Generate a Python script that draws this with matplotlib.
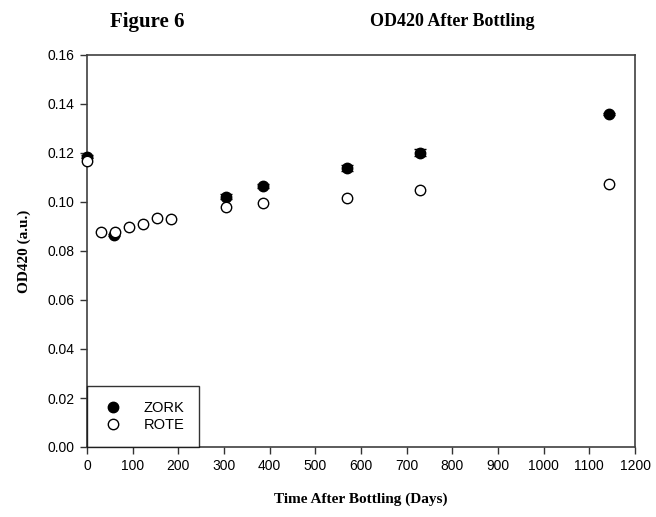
import matplotlib
matplotlib.use("Agg")
import matplotlib.pyplot as plt
from matplotlib.lines import Line2D
import numpy as np

# data
zork_days = [0, 60, 305, 385, 570, 730, 1143]
zork_od = [0.1185, 0.0866, 0.1022, 0.1065, 0.1138, 0.1201, 0.1358]
zork_err = [0.0006, 0.0005, 0.0010, 0.0008, 0.0012, 0.0014, 0.0004]

rote_days = [0, 30, 61, 92, 122, 154, 184, 305, 385, 570, 730, 1143]
rote_od = [0.1169, 0.0879, 0.0879, 0.0897, 0.0910, 0.0933, 0.0929,
           0.0981, 0.0997, 0.1015, 0.1049, 0.1072]

xticks = np.arange(0, 1201, 100)
yticks = np.arange(0, 0.161, 0.02)

serif = ["Liberation Serif", "DejaVu Serif"]
sans = ["Liberation Sans", "DejaVu Sans"]
plt.rcParams["font.family"] = sans

fig = plt.figure(figsize=(6.56, 5.17), dpi=100)
ax = fig.add_axes([87/656, 1-447/517, (635-87)/656, (447-55)/517])

eb = ax.errorbar(zork_days, zork_od, yerr=zork_err, fmt="o", color="black",
                 markersize=7.5, mec="black", mew=1, ecolor="black",
                 elinewidth=1, capsize=4, zorder=3)
for a in [eb.lines[0]] + list(eb.lines[1]) + list(eb.lines[2]):
    a.set_clip_on(False)
ax.plot(rote_days, rote_od, "o", markersize=7.5, mfc="white", mec="black",
        mew=1, zorder=4, clip_on=False)

ax.set_xlim(0, 1200)
ax.set_ylim(0, 0.16)
ax.set_xticks(xticks)
ax.set_yticks(yticks)
ax.set_yticklabels(["%.2f" % v for v in yticks])
ax.tick_params(direction="out", length=5, width=1, color="#333333",
               labelsize=10, pad=4)
for s in ax.spines.values():
    s.set_color("#404040")
    s.set_linewidth(1.2)

ax.set_xlabel("Time After Bottling (Days)", family=serif, fontweight="bold",
              fontsize=11, labelpad=14)
ax.set_ylabel("OD420 (a.u.)", family=serif, fontweight="bold",
              fontsize=11, labelpad=12)

handles = [Line2D([], [], ls="none", marker="o", markersize=7.5, mfc="black",
                  mec="black", mew=1),
           Line2D([], [], ls="none", marker="o", markersize=7.5, mfc="white",
                  mec="black", mew=1)]
leg = ax.legend(handles, ["ZORK", "ROTE"], loc="lower left", fontsize=10.5,
                frameon=True, fancybox=False, borderaxespad=0, borderpad=1.0,
                handletextpad=1.3, labelspacing=0.25, handlelength=1.6,
                numpoints=1)
leg.get_frame().set_edgecolor("black")
leg.get_frame().set_linewidth(1)
leg.set_zorder(5)

fig.text(147/656, 1-22/517, "Figure 6", family=serif, fontweight="bold",
         fontsize=15, ha="center", va="center")
fig.text(452/656, 1-22/517, "OD420 After Bottling", family=serif,
         fontweight="bold", fontsize=13, ha="center", va="center")

fig.savefig("out.png", dpi=100)
